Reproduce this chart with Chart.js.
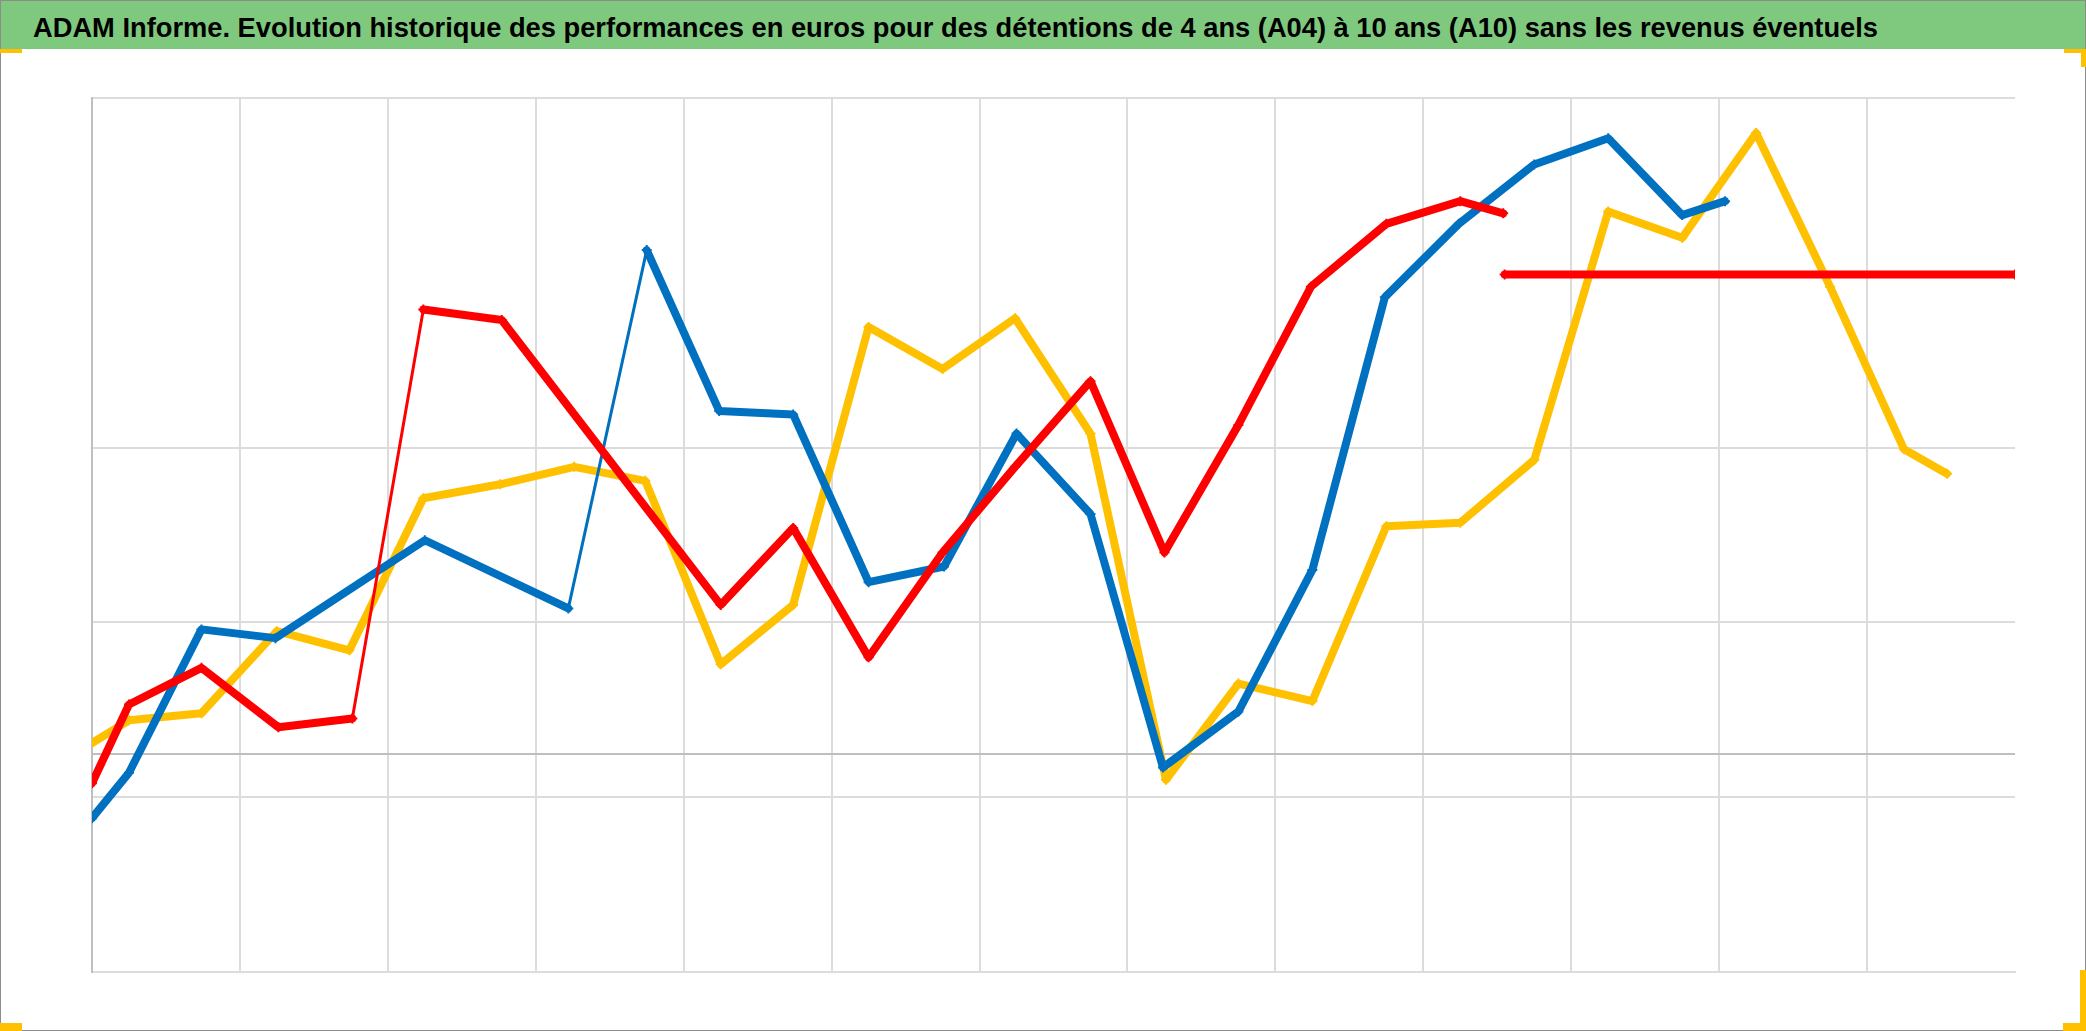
<!DOCTYPE html>
<html>
<head>
<meta charset="utf-8">
<script src="https://cdn.jsdelivr.net/npm/chart.js@4.4.0/dist/chart.umd.min.js"></script>
<style>
    body { margin: 0; width: 2086px; height: 1031px; overflow: hidden; background: #fff; position: relative; }
    canvas { position: absolute; left: 0; top: 0; }
    #titlebar { position: absolute; left: 0; top: 0; width: 2086px; height: 49px; background: #7fc97f; }
    #title { position: absolute; left: 33px; top: 12px; white-space: nowrap; color: #000;
             font: bold 28px "Liberation Sans Narrow", "Liberation Sans", sans-serif; transform-origin: 0 0; }
    #frame { position: absolute; left: 0; top: 0; width: 2084px; height: 1029px; border: 1px solid #8c8c8c; }
    .handle { position: absolute; background: #ffc000; }
</style>
</head>
<body>
<canvas id="chart1" width="2086" height="1031"></canvas>
<div id="titlebar"><span id="title">ADAM Informe. Evolution historique des performances en euros pour des détentions de 4 ans (A04) à 10 ans (A10) sans les revenus éventuels</span></div>
<div id="frame"></div>
<div class="handle" style="left:0;top:49px;width:22px;height:4px"></div>
<div class="handle" style="left:2064px;top:49px;width:22px;height:4px"></div>
<div class="handle" style="left:2081px;top:49px;width:5px;height:18px"></div>
<div class="handle" style="left:0;top:1023px;width:22px;height:8px"></div>
<div class="handle" style="left:2063px;top:1023px;width:23px;height:8px"></div>
<div class="handle" style="left:2080px;top:970px;width:6px;height:61px"></div>
<script>
// values (x in grid steps, y in arbitrary units)
const xBlue = [0, 0.25, 0.74, 1.24, 2.25, 3.22, 3.75, 4.24, 4.74, 5.25, 5.76, 6.25, 6.75, 7.24, 7.75, 8.25, 8.74, 9.24, 9.75, 10.25, 10.75, 11.04]
const yBlue = [88, 114, 196, 191, 247, 208, 413, 321, 319, 223, 232, 308, 262, 117, 149, 230, 386, 428, 462, 477, 433, 441]

const xRed = [0, 0.25, 0.74, 1.26, 1.76, 2.24, 2.77, 4.25, 4.74, 5.25, 5.75, 6.24, 6.75, 7.25, 7.75, 8.24, 8.75, 9.25, 9.54]
const yRed = [108, 153, 174, 140, 145, 379, 373, 210, 254, 180, 240, 289, 338, 240, 313, 392, 428, 441, 434]

const xRedFlat = [9.55, 13]
const yRedFlat = [399, 399]

const xYellow = [0, 0.25, 0.74, 1.25, 1.74, 2.24, 2.76, 3.26, 3.74, 4.25, 4.74, 5.25, 5.75, 6.24, 6.75, 7.26, 7.75, 8.25, 8.75, 9.25, 9.75, 10.25, 10.75, 11.25, 11.75, 12.25, 12.54]
const yYellow = [131, 144, 148, 195, 184, 271, 279, 289, 281, 176, 210, 369, 345, 374, 308, 110, 165, 155, 255, 257, 293, 435, 420, 480, 392, 299, 285]

const xGridValues = [0, 1, 2, 3, 4, 5, 6, 7, 8, 9, 10, 11, 12, 13]
const yGridValues = [0, 100, 125, 200, 300, 500]

// segments where the original points are sparse (drawn thinner)
const thinSegments = { red: [4], blue: [5] }

function pts(xs, ys) {
    return xs.map((x, i) => ({ x: x, y: ys[i] }))
}

function series(name, xs, ys, color) {
    const thin = thinSegments[name] || []
    return {
        label: name,
        data: pts(xs, ys),
        borderColor: color,
        backgroundColor: color,
        borderWidth: 8,
        borderJoinStyle: 'round',
        borderCapStyle: 'round',
        pointStyle: 'cross',
        pointRadius: 5,
        pointBorderWidth: 2,
        pointBorderColor: color,
        tension: 0,
        segment: {
            borderWidth: ctx => thin.includes(ctx.p0DataIndex) ? 3 : 8,
        },
    }
}

const chart = {
    type: 'line',
    data: {
        datasets: [
            series('red', xRed, yRed, '#ff0000'),
            series('redflat', xRedFlat, yRedFlat, '#ff0000'),
            series('blue', xBlue, yBlue, '#0070c0'),
            series('yellow', xYellow, yYellow, '#ffc000'),
        ]
    },
    options: {
        responsive: false,
        devicePixelRatio: 1,
        animation: false,
        layout: { padding: { left: 92, top: 98, right: 71, bottom: 59 } },
        plugins: { legend: { display: false }, tooltip: { enabled: false } },
        scales: {
            x: {
                type: 'linear',
                min: 0, max: 13,
                afterBuildTicks: s => { s.ticks = xGridValues.map(v => ({ value: v })) },
                afterFit: s => { s.height = 0 },
                ticks: { display: false },
                grid: {
                    drawTicks: false,
                    lineWidth: 2,
                    color: c => c.tick.value === 0 ? '#bfbfbf' : (c.tick.value === 13 ? 'rgba(0,0,0,0)' : '#dcdcdc'),
                },
                border: { display: true, color: '#dcdcdc', width: 2 },
            },
            y: {
                type: 'linear',
                min: 0, max: 500,
                afterBuildTicks: s => { s.ticks = yGridValues.map(v => ({ value: v })) },
                afterFit: s => { s.width = 0 },
                ticks: { display: false },
                grid: {
                    drawTicks: false,
                    lineWidth: 2,
                    color: c => c.tick.value === 125 ? '#bfbfbf' : '#dcdcdc',
                },
                border: { display: true, color: '#bfbfbf', width: 2 },
            }
        }
    }
}

new Chart(document.getElementById('chart1').getContext('2d'), chart)

// squeeze the title to the width it has in the original
const title = document.getElementById('title')
const w = title.getBoundingClientRect().width
title.style.transform = 'scaleX(' + (1845 / w) + ')'
</script>
</body>
</html>
